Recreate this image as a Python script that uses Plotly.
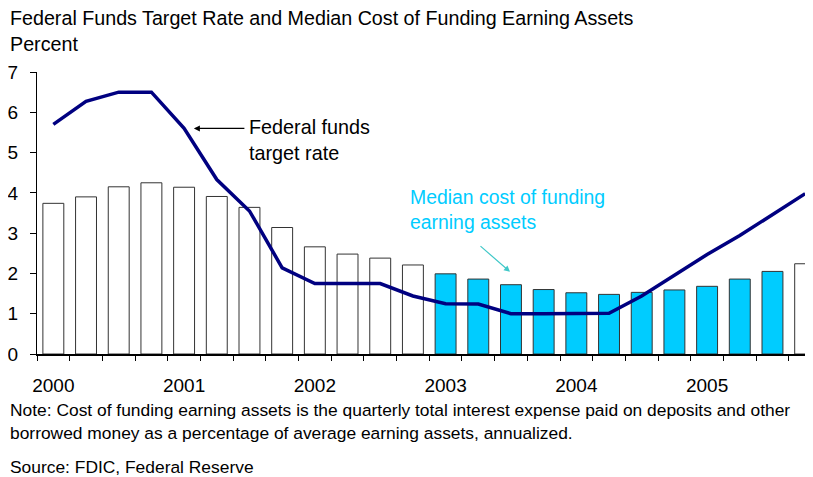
import plotly.graph_objects as go

# ---- data ----
quarters = [f"{y}Q{q}" for y in range(2000, 2006) for q in range(1, 5)]
cost_of_funding = [3.74, 3.90, 4.15, 4.25, 4.14, 3.91, 3.64, 3.14, 2.66, 2.48, 2.38, 2.21,
                   1.99, 1.86, 1.72, 1.60, 1.52, 1.48, 1.53, 1.59, 1.68, 1.86, 2.05, 2.24]
fed_funds_rate = [5.70, 6.27, 6.50, 6.50, 5.60, 4.33, 3.55, 2.14, 1.75, 1.75, 1.75, 1.44,
                  1.25, 1.24, 1.00, 1.00, 1.00, 1.01, 1.44, 1.95, 2.47, 2.94, 3.46, 3.98]
year_labels = ["2000", "2001", "2002", "2003", "2004", "2005"]
y_ticks = [0, 1, 2, 3, 4, 5, 6, 7]

# ---- styling ----
FONT = "Liberation Sans, Arial, sans-serif"
CYAN = "#00CCFF"
NAVY = "#000080"
highlight = [q.startswith(("2003", "2004", "2005")) and q != "2005Q4" for q in quarters]
bar_colors = [CYAN if h else "white" for h in highlight]

x_idx = list(range(len(quarters)))
year_pos = [quarters.index(y + "Q1") for y in year_labels]
x_range = [-0.5, len(quarters) - 0.76]

# figure is placed with an 8px page margin; sizes are in figure pixels
W, H = 805, 469
ML, MT, MB = 26, 64, 123
PW, PH = W - ML, H - MT - MB


def px(xp):
    return (xp - ML) / PW


def py(yp):
    return (H - MB - yp) / PH


fig = go.Figure()
fig.add_trace(go.Bar(
    x=x_idx, y=cost_of_funding, width=0.64,
    marker=dict(color=bar_colors, line=dict(color="#333333", width=1)),
    showlegend=False, hoverinfo="skip",
))
fig.add_trace(go.Scatter(
    x=x_idx, y=fed_funds_rate, mode="lines", xaxis="x2",
    line=dict(color=NAVY, width=3.5),
    showlegend=False, hoverinfo="skip",
))

fig.update_layout(
    width=W, height=H,
    margin=dict(l=ML, r=0, t=MT, b=MB),
    paper_bgcolor="white", plot_bgcolor="white",
    font=dict(family=FONT, color="black", size=19),
    xaxis=dict(
        range=x_range, tickmode="array", tickvals=year_pos, ticktext=year_labels,
        ticks="", showgrid=False, zeroline=False,
        showline=True, linecolor="black", linewidth=1.5,
        ticklabelstandoff=13, tickfont=dict(size=19),
    ),
    xaxis2=dict(
        range=x_range, overlaying="x", anchor="y", side="bottom",
        tickmode="array", tickvals=[i - 0.5 for i in x_idx],
        ticks="outside", ticklen=6, tickcolor="black", tickwidth=1,
        showticklabels=False, showgrid=False, zeroline=False, showline=False,
    ),
    yaxis=dict(
        range=[0, 7], tickmode="array", tickvals=y_ticks,
        ticks="outside", ticklen=6, tickcolor="black", tickwidth=1,
        showgrid=False, zeroline=False,
        showline=True, linecolor="black", linewidth=1,
        ticklabelstandoff=8, tickfont=dict(size=19),
    ),
    annotations=[
        dict(text="Federal Funds Target Rate and Median Cost of Funding Earning Assets",
             xref="paper", yref="paper", x=px(-3), y=py(10), xanchor="left",
             yanchor="middle", showarrow=False, font=dict(size=19.7)),
        dict(text="Percent", xref="paper", yref="paper", x=px(-3), y=py(36),
             xanchor="left", yanchor="middle", showarrow=False, font=dict(size=19.7)),
        dict(text="Note: Cost of funding earning assets is the quarterly total interest expense paid on deposits and other<br>"
                  "borrowed money as a percentage of average earning assets, annualized.",
             xref="paper", yref="paper", x=px(-3), y=py(413), xanchor="left",
             yanchor="middle", align="left", showarrow=False, font=dict(size=17.4)),
        dict(text="Source: FDIC, Federal Reserve",
             xref="paper", yref="paper", x=px(-3), y=py(459), xanchor="left",
             yanchor="middle", showarrow=False, font=dict(size=17.4)),
        # line label
        dict(text="Federal funds<br>target rate", x=5.92, y=5.3, xanchor="left", yanchor="middle",
             align="left", showarrow=False, font=dict(size=19.8)),
        dict(text="", x=4.3, y=5.6, ax=52, ay=0, showarrow=True, arrowhead=2,
             arrowsize=1, arrowwidth=1.2, arrowcolor="black"),
        # bar label
        dict(text="Median cost of funding<br>earning assets", x=10.85, y=3.58, xanchor="left",
             yanchor="middle", align="left", showarrow=False, font=dict(size=19.4, color=CYAN)),
        dict(text="", x=13.97, y=2.04, ax=-31, ay=-27, showarrow=True, arrowhead=2,
             arrowsize=1, arrowwidth=1.2, arrowcolor="#40C8C8"),
    ],
)

fig.write_html("out.html")
